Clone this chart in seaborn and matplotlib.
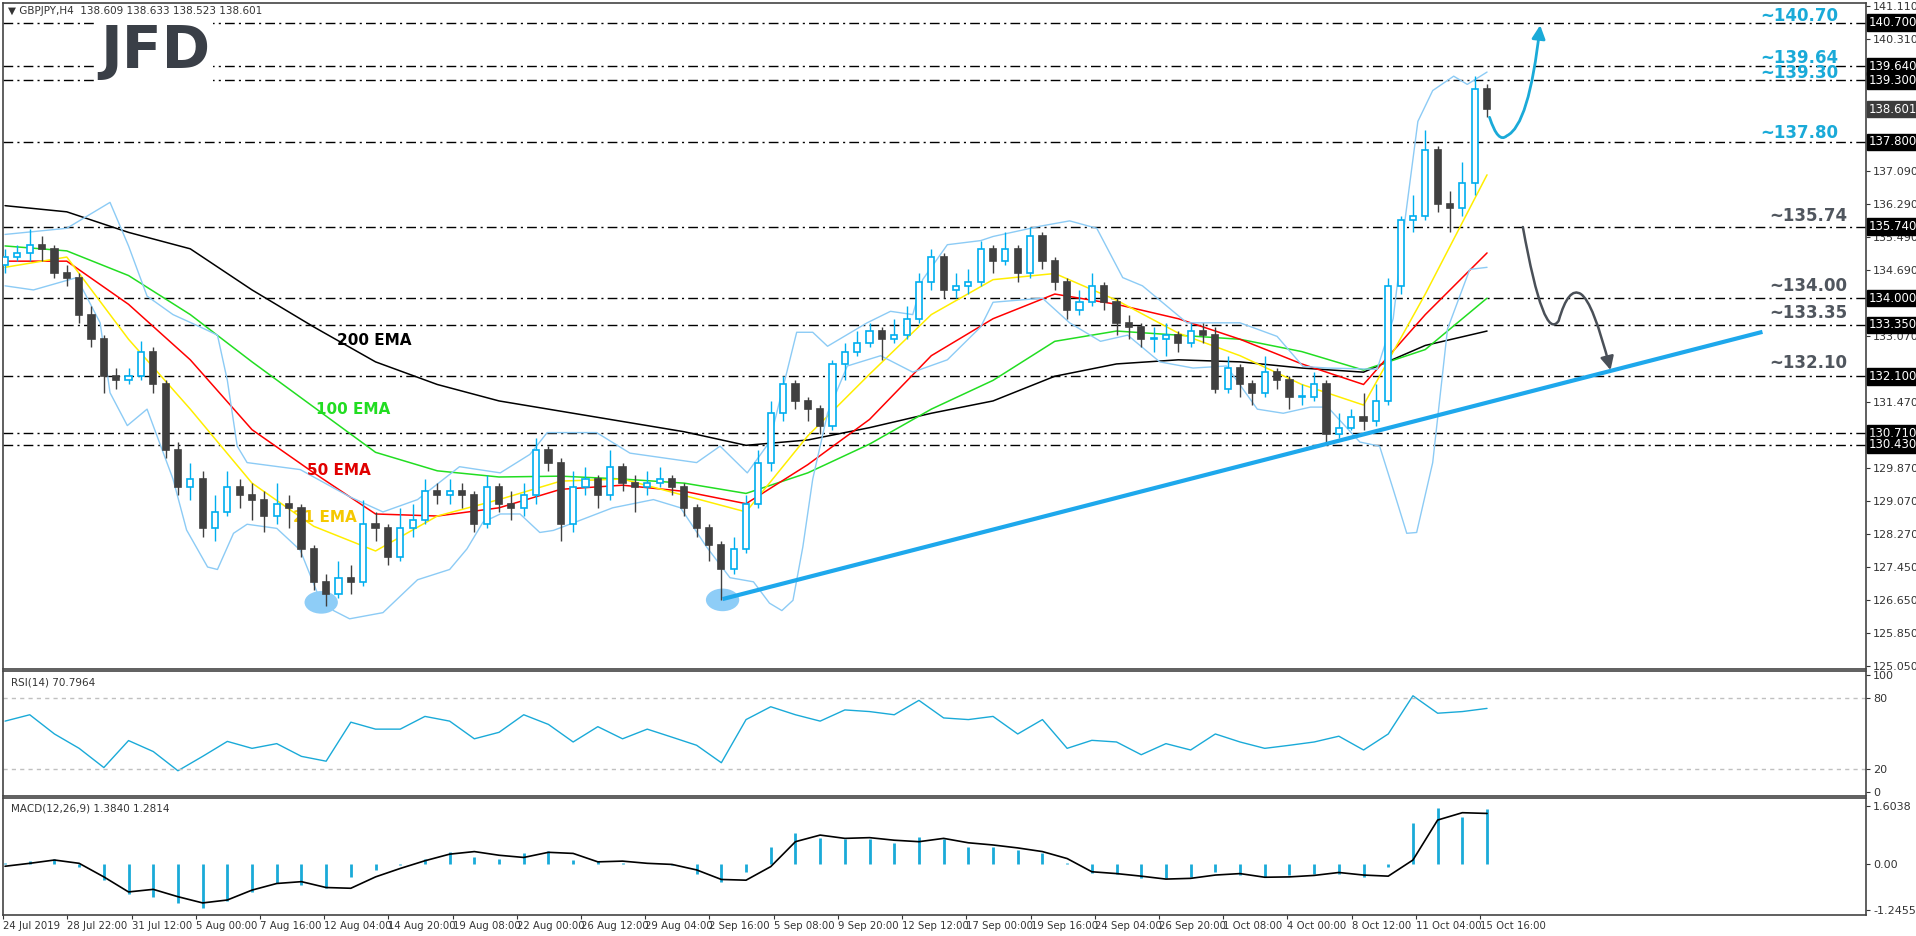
import numpy as np
import pandas as pd
import matplotlib
matplotlib.use("Agg")
import matplotlib.pyplot as plt
import seaborn as sns
from matplotlib.patches import Rectangle, Ellipse, FancyArrowPatch
from matplotlib.path import Path

# GBPJPY candles, one per 12h
closes = [135.0, 135.1, 135.3, 135.2, 134.6, 134.5, 133.6, 133.0, 132.1, 132.0,
          132.1, 132.7, 131.9, 130.3, 129.4, 129.6, 128.4, 128.8, 129.4, 129.2,
          129.1, 128.7, 129.0, 128.9, 127.9, 127.1, 126.8, 127.2, 127.1, 128.5,
          128.4, 127.7, 128.4, 128.6, 129.3, 129.2, 129.3, 129.2, 128.5, 129.4,
          129.0, 128.9, 129.2, 130.3, 130.0, 128.5, 129.4, 129.6, 129.2, 129.9,
          129.5, 129.4, 129.5, 129.6, 129.4, 128.9, 128.4, 128.0, 127.4, 127.9,
          129.0, 130.0, 131.2, 131.9, 131.5, 131.3, 130.9, 132.4, 132.7, 132.9,
          133.2, 133.0, 133.1, 133.5, 134.4, 135.0, 134.2, 134.3, 134.4, 135.2,
          134.9, 135.2, 134.6, 135.5, 134.9, 134.4, 133.7, 133.9, 134.3, 133.9,
          133.4, 133.3, 133.0, 133.0, 133.1, 132.9, 133.2, 133.1, 131.8, 132.3,
          131.9, 131.7, 132.2, 132.0, 131.6, 131.6, 131.9, 130.7, 130.85, 131.1,
          131.0, 131.5, 134.3, 135.9, 136.0, 137.6, 136.3, 136.2, 136.8, 139.1,
          138.6]
highs = [135.2, 135.3, 135.68, 135.5, 135.3, 134.8, 134.6, 133.8, 133.1, 132.3,
         132.3, 132.95, 132.8, 132.0, 130.5, 130.0, 129.8, 129.2, 129.8, 129.6,
         129.5, 129.3, 129.5, 129.2, 129.0, 128.0, 127.3, 127.6, 127.5, 129.1,
         128.8, 128.5, 128.9, 129.0, 129.6, 129.5, 129.6, 129.5, 129.3, 129.7,
         129.5, 129.3, 129.5, 130.6, 130.4, 130.1, 129.8, 129.9, 129.7, 130.3,
         130.0, 129.7, 129.8, 129.9, 129.7, 129.5, 129.0, 128.5, 128.1, 128.2,
         129.2, 130.3, 131.5, 132.1, 132.0, 131.6, 131.4, 132.5, 132.9, 133.2,
         133.4, 133.3, 133.5, 133.8, 134.6, 135.2, 135.1, 134.6, 134.7, 135.4,
         135.3, 135.6, 135.3, 135.74, 135.6, 135.0, 134.5, 134.2, 134.6, 134.4,
         134.0, 133.6, 133.4, 133.3, 133.4, 133.2, 133.4, 133.4, 133.3, 132.6,
         132.4, 132.0, 132.6, 132.3, 132.1, 131.9, 132.2, 132.0, 131.2, 131.3,
         131.7, 131.9, 134.5, 136.0, 136.5, 138.1, 137.7, 136.6, 137.3, 139.4,
         139.2]
lows = [134.6, 134.9, 134.9, 134.9, 134.5, 134.3, 133.4, 132.8, 131.7, 131.8,
        131.9, 132.0, 131.7, 130.1, 129.2, 129.1, 128.2, 128.1, 128.7, 128.9,
        128.6, 128.3, 128.5, 128.4, 127.7, 126.9, 126.5, 126.7, 126.8, 127.0,
        128.1, 127.5, 127.6, 128.2, 128.5, 129.0, 129.0, 128.9, 128.3, 128.4,
        128.8, 128.6, 128.7, 129.0, 129.8, 128.1, 128.3, 129.2, 128.9, 129.1,
        129.3, 128.8, 129.2, 129.4, 129.2, 128.7, 128.2, 127.6, 126.65, 127.3,
        127.8, 128.9, 129.8, 131.0, 131.3, 131.0, 130.7, 130.8, 132.0, 132.6,
        132.8, 132.5, 132.9, 133.0, 133.4, 134.2, 134.0, 134.0, 134.1, 134.3,
        134.6, 134.8, 134.4, 134.5, 134.7, 134.2, 133.5, 133.6, 133.8, 133.7,
        133.1, 133.0, 132.8, 132.7, 132.6, 132.7, 132.8, 132.9, 131.7, 131.7,
        131.6, 131.4, 131.6, 131.8, 131.3, 131.4, 131.5, 130.5, 130.6, 130.8,
        130.8, 130.9, 131.4, 134.1, 135.6, 135.9, 136.1, 135.6, 136.0, 136.5,
        138.4]
opens = [134.8] + closes[:-1]

# EMAs sampled every 5 candles
ema_idx = list(range(0, 121, 5))
ema200 = [136.25, 136.1, 135.6, 135.2, 134.2, 133.3, 132.45, 131.9, 131.5, 131.25,
          131.0, 130.75, 130.42, 130.55, 130.85, 131.2, 131.5, 132.1, 132.4, 132.5,
          132.45, 132.3, 132.2, 132.85, 133.2]
ema100 = [135.27, 135.15, 134.55, 133.6, 132.45, 131.35, 130.25, 129.8, 129.65, 129.67,
          129.6, 129.5, 129.25, 129.75, 130.45, 131.3, 132.0, 132.95, 133.2, 133.1,
          133.0, 132.7, 132.25, 132.75, 134.0]
ema50 = [134.9, 134.9, 133.85, 132.5, 130.8, 129.75, 128.75, 128.7, 128.9, 129.35,
         129.45, 129.3, 129.0, 129.95, 131.05, 132.6, 133.5, 134.1, 133.85, 133.5,
         133.0, 132.4, 131.9, 133.6, 135.1]
ema21 = [134.75, 135.0, 133.0, 131.3, 129.5, 128.45, 127.85, 128.7, 129.1, 129.55,
         129.6, 129.2, 128.8, 130.65, 132.15, 133.6, 134.45, 134.6, 133.95, 133.15,
         132.6, 131.9, 131.4, 134.1, 137.0]

# Bollinger bands
bb_up_idx = [0, 5, 8.5, 10, 11.5, 13.6, 15.8, 17.2, 18, 18.8, 19.6, 23.9, 27.9, 30.6,
             33.4, 36.8, 40.1, 42.5, 43.9, 47.9, 50.6, 56, 57.9, 60.1, 61.9, 64.1, 65.4,
             66.6, 69.8, 71.7, 73.5, 74.3, 76.3, 79, 80, 83.8, 86.2, 88.4, 90.5, 92.1,
             95.7, 100, 103, 105.1, 107.1, 111.1, 112.4, 113.4, 114.4, 115.6, 117.3,
             118.4, 120]
bb_up = [135.55, 135.7, 136.33, 135.27, 134.05, 133.6, 133.3, 133.1, 132.0, 130.4,
         130.0, 129.83, 129.17, 128.8, 129.1, 129.9, 129.75, 130.2, 130.73, 130.73,
         130.23, 130.0, 130.4, 129.75, 130.5, 133.17, 133.17, 132.83, 133.4, 133.68,
         133.6, 134.45, 135.3, 135.4, 135.5, 135.75, 135.88, 135.7, 134.5, 134.3,
         133.4, 133.4, 133.07, 132.34, 132.3, 132.27, 133.5, 136.0, 138.3, 139.05,
         139.4, 139.2, 139.5]
bb_lo_idx = [0, 2.3, 5.8, 7.7, 8.5, 9.9, 11.5, 13.6, 14.7, 16.4, 17.2, 18.5, 19.6, 22,
             23.9, 25.3, 26.6, 27.9, 30.6, 33.4, 36, 37.4, 38.7, 40.1, 41.7, 43.3, 44.4,
             46.6, 49.2, 52.5, 54.7, 56.8, 58.7, 60.6, 61.9, 62.9, 63.8, 64.6, 65.4,
             66.6, 68.2, 70.9, 73.5, 76.3, 79, 80, 84, 86.2, 88.7, 90.9, 93.5, 96.2,
             98.9, 101.4, 103.5, 105.7, 107.1, 109.7, 111.3, 112.4, 113.5, 114.3,
             115.6, 116.8, 118.6, 120]
bb_lo = [134.3, 134.2, 134.5, 133.4, 131.7, 130.9, 131.3, 129.6, 128.36, 127.46,
         127.4, 128.28, 128.5, 128.4, 127.87, 126.82, 126.4, 126.2, 126.35, 127.15,
         127.4, 127.9, 128.55, 128.75, 128.75, 128.3, 128.35, 128.6, 128.9, 129.1,
         128.9, 127.95, 127.2, 127.1, 126.58, 126.4, 126.65, 127.95, 129.6, 131.2,
         132.35, 132.6, 132.2, 132.5, 133.3, 133.9, 134.0, 133.4, 132.95, 133.1,
         132.45, 132.3, 132.35, 131.3, 131.2, 131.35, 131.35, 130.5, 130.4, 129.35,
         128.28, 128.3, 130.0, 133.25, 134.7, 134.75]

# RSI(14) and MACD, every 2 candles
osc_idx = list(range(0, 121, 2))
rsi = [60.5, 65.9, 49.6, 37.4, 21.1, 44.0, 34.7, 18.4, 30.6, 43.3,
       37.4, 41.4, 30.6, 26.5, 59.6, 53.7, 53.7, 64.5, 60.5, 45.5,
       51.0, 65.9, 57.7, 42.8, 55.8, 45.5, 53.7, 46.9, 40.0, 25.2,
       61.8, 72.7, 65.9, 60.5, 70.0, 68.6, 65.9, 78.1, 63.2, 61.8,
       64.5, 49.6, 61.8, 37.4, 44.2, 42.8, 32.0, 41.4, 36.0, 49.6,
       42.8, 37.4, 40.0, 42.8, 47.7, 36.0, 49.6, 82.0, 67.2, 68.6, 71.3]
macd_hist = [0.03, 0.1, 0.14, -0.06, -0.43, -0.8, -0.88, -1.06, -1.2, -1.0,
             -0.75, -0.52, -0.56, -0.65, -0.34, -0.15, -0.02, 0.16, 0.35, 0.21,
             0.16, 0.3, 0.36, 0.12, 0.09, 0.05, 0.0, -0.02, -0.25, -0.47,
             -0.2, 0.48, 0.85, 0.71, 0.68, 0.68, 0.59, 0.75, 0.68, 0.48,
             0.48, 0.39, 0.3, 0.03, -0.23, -0.25, -0.38, -0.38, -0.34, -0.2,
             -0.29, -0.34, -0.29, -0.26, -0.25, -0.34, -0.06, 1.12, 1.53, 1.3, 1.5]
macd_signal = [-0.05, 0.03, 0.12, 0.03, -0.34, -0.75, -0.68, -0.88, -1.05, -0.97,
               -0.7, -0.52, -0.47, -0.63, -0.65, -0.34, -0.11, 0.1, 0.28, 0.35,
               0.25, 0.19, 0.33, 0.3, 0.07, 0.09, 0.03, 0.0, -0.15, -0.41,
               -0.43, -0.06, 0.62, 0.8, 0.71, 0.73, 0.66, 0.62, 0.71, 0.59,
               0.53, 0.45, 0.35, 0.16, -0.2, -0.25, -0.32, -0.4, -0.38, -0.29,
               -0.25, -0.35, -0.34, -0.3, -0.22, -0.29, -0.32, 0.12, 1.21, 1.41, 1.39]

levels = [140.70, 139.64, 139.30, 137.80, 135.74, 134.00, 133.35, 132.10, 130.71, 130.43]
level_texts = ["~140.70", "~139.64", "~139.30", "~137.80",
               "~135.74", "~134.00", "~133.35", "~132.10"]
level_text_y = [140.86, 139.85, 139.48, 138.02, 136.0, 134.3, 133.64, 132.42]
last_price = 138.601

price_ticks = [141.11, 140.31, 137.09, 136.29, 135.49, 134.69, 133.07, 131.47,
               129.87, 129.07, 128.27, 127.45, 126.65, 125.85, 125.05]

date_labels = ["24 Jul 2019", "28 Jul 22:00", "31 Jul 12:00", "5 Aug 00:00", "7 Aug 16:00",
               "12 Aug 04:00", "14 Aug 20:00", "19 Aug 08:00", "22 Aug 00:00", "26 Aug 12:00",
               "29 Aug 04:00", "2 Sep 16:00", "5 Sep 08:00", "9 Sep 20:00", "12 Sep 12:00",
               "17 Sep 00:00", "19 Sep 16:00", "24 Sep 04:00", "26 Sep 20:00", "1 Oct 08:00",
               "4 Oct 00:00", "8 Oct 12:00", "11 Oct 04:00", "15 Oct 16:00"]

# trendline and swing lows
trend_x = [58.1, 142.3]
trend_y = [126.68, 133.18]
lows_marked = [(25.6, 126.6), (58.1, 126.66)]

sns.set_style("white")
plt.rcParams['font.family'] = ['DejaVu Sans']

BULL = "#00AEEF"
BEAR = "#404040"
BLUE_TXT = "#1AAAD8"
GRAY_TXT = "#50565E"
XL = (-0.16, 150.7)

fig = plt.figure(figsize=(19.16, 9.36), dpi=100)
ax = fig.add_axes([0.0016, 0.2853, 0.9724, 0.7115])
ax_rsi = fig.add_axes([0.0016, 0.1496, 0.9724, 0.1335])
ax_macd = fig.add_axes([0.0016, 0.0224, 0.9724, 0.125])

# --- price panel ---
for i, (o, h, l, c) in enumerate(zip(opens, highs, lows, closes)):
    bull = c >= o
    col = BULL if bull else BEAR
    ax.vlines(i, l, h, color=col, lw=1, zorder=3)
    ax.add_patch(Rectangle((i - 0.25, min(o, c)), 0.5, max(abs(c - o), 0.03),
                           facecolor="white" if bull else BEAR, edgecolor=col,
                           lw=1.2, zorder=4))

ema_df = pd.DataFrame({"idx": ema_idx, "e200": ema200, "e100": ema100,
                       "e50": ema50, "e21": ema21})
for col, color in [("e200", "black"), ("e100", "#22DD22"), ("e50", "#FF0000"), ("e21", "#FFEE00")]:
    sns.lineplot(data=ema_df, x="idx", y=col, ax=ax, color=color, lw=1.1, zorder=2)
sns.lineplot(x=bb_up_idx, y=bb_up, ax=ax, color="#8CCBF5", lw=1, zorder=2)
sns.lineplot(x=bb_lo_idx, y=bb_lo, ax=ax, color="#8CCBF5", lw=1, zorder=2)

for lv in levels:
    ax.axhline(lv, color="black", lw=1, ls=(0, (7, 3, 1.5, 3)), zorder=1)

ax.plot(trend_x, trend_y, color="#1EA8EC", lw=3, zorder=5, solid_capstyle="butt")
for lx, ly in lows_marked:
    ax.add_patch(Ellipse((lx, ly), 2.7, 0.55, facecolor="#8ECDF7", edgecolor="none", zorder=2))

# projected paths
blue_path = Path([(120.2, 138.4), (120.9, 137.75), (121.6, 137.95),
                  (123.4, 138.2), (124.3, 140.64)],
                 [Path.MOVETO, Path.CURVE3, Path.CURVE3, Path.CURVE3, Path.CURVE3])
ax.add_patch(FancyArrowPatch(path=blue_path, arrowstyle="-|>,head_length=8,head_width=4",
                             color=BLUE_TXT, lw=2, zorder=6))
gray_path = Path([(122.9, 135.73), (124.6, 132.9), (125.8, 133.45),
                  (126.6, 134.3), (127.6, 134.1), (128.6, 133.9), (130.0, 132.25)],
                 [Path.MOVETO, Path.CURVE3, Path.CURVE3, Path.CURVE3, Path.CURVE3,
                  Path.CURVE3, Path.CURVE3])
ax.add_patch(FancyArrowPatch(path=gray_path, arrowstyle="-|>,head_length=8,head_width=4",
                             color="#4A5058", lw=1.8, zorder=6))

for k, (ty, txt) in enumerate(zip(level_text_y, level_texts)):
    ax.text(145.3 if k < 4 else 146.0, ty, txt, color=BLUE_TXT if k < 4 else GRAY_TXT,
            fontsize=12, fontweight="bold", ha="center", va="center")

ax.text(29.9, 132.98, "200 EMA", color="black", fontsize=11, fontweight="bold", ha="center", va="center")
ax.text(28.2, 131.3, "100 EMA", color="#22DD22", fontsize=11, fontweight="bold", ha="center", va="center")
ax.text(27.0, 129.8, "50 EMA", color="#E00000", fontsize=11, fontweight="bold", ha="center", va="center")
ax.text(25.9, 128.67, "21 EMA", color="#F5C800", fontsize=11, fontweight="bold", ha="center", va="center")

ax.set_xlim(*XL)
ax.set_ylim(124.98, 141.18)
ax.yaxis.tick_right()
ax.set_yticks(price_ticks)
ax.set_yticklabels([f"{t:.3f}" for t in price_ticks])
ax.set_xticks([])

for lv in levels:
    ax.text(1.0015, lv, f"{lv:.3f}", transform=ax.get_yaxis_transform(), color="white",
            fontsize=8.5, va="center", ha="left", zorder=10,
            bbox=dict(boxstyle="square,pad=0.15", facecolor="black", edgecolor="black"))
ax.text(1.0015, last_price, f"{last_price:.3f}", transform=ax.get_yaxis_transform(),
        color="white", fontsize=8.5, va="center", ha="left", zorder=10,
        bbox=dict(boxstyle="square,pad=0.15", facecolor="#3C3C3C", edgecolor="#3C3C3C"))

fig.text(155 / 1916, 1 - 51 / 936, "JFD", fontsize=42, fontweight="bold", color="#3A3F47",
         ha="center", va="center", zorder=10,
         bbox=dict(boxstyle="square,pad=0.05", facecolor="white", edgecolor="none"))
fig.text(8 / 1916, 1 - 11 / 936, "\u25BC GBPJPY,H4  138.609 138.633 138.523 138.601",
         fontsize=7.5, color="#333333", va="center", ha="left", zorder=11)

# --- RSI panel ---
sns.lineplot(x=osc_idx, y=rsi, ax=ax_rsi, color=BLUE_TXT, lw=1)
for lv in (80, 20):
    ax_rsi.axhline(lv, color="#C0C0C0", lw=1, ls=(0, (3, 3)))
ax_rsi.set_xlim(*XL)
ax_rsi.set_ylim(-3, 103)
ax_rsi.yaxis.tick_right()
ax_rsi.set_yticks([100, 80, 20, 0])
ax_rsi.set_xticks([])
ax_rsi.text(0.004, 0.95, "RSI(14) 70.7964", transform=ax_rsi.transAxes, fontsize=7.5,
            color="#333333", va="top")

# --- MACD panel ---
ax_macd.vlines(osc_idx, 0, macd_hist, color=BLUE_TXT, lw=2)
sns.lineplot(x=osc_idx, y=macd_signal, ax=ax_macd, color="black", lw=1.2)
ax_macd.set_xlim(*XL)
ax_macd.set_ylim(-1.38, 1.81)
ax_macd.yaxis.tick_right()
ax_macd.set_yticks([1.6038, 0.0, -1.2455])
ax_macd.set_yticklabels(["1.6038", "0.00", "-1.2455"])
ax_macd.text(0.004, 0.95, "MACD(12,26,9) 1.3840 1.2814", transform=ax_macd.transAxes,
             fontsize=7.5, color="#333333", va="top")
date_pos = np.arange(len(date_labels)) * 5.2 - 0.16
ax_macd.set_xticks(date_pos)
ax_macd.set_xticklabels(date_labels, ha="left")

for a in (ax, ax_rsi, ax_macd):
    a.set_xlabel("")
    a.set_ylabel("")
    for s in a.spines.values():
        s.set_color("#444444")
        s.set_linewidth(1.2)
    a.tick_params(axis="y", labelsize=8, colors="#333333", length=3, pad=2, direction="out", right=True)
    a.tick_params(axis="x", labelsize=7.3, colors="#333333", length=3, pad=1, direction="out", bottom=True)

fig.savefig("out.png", dpi=100)
